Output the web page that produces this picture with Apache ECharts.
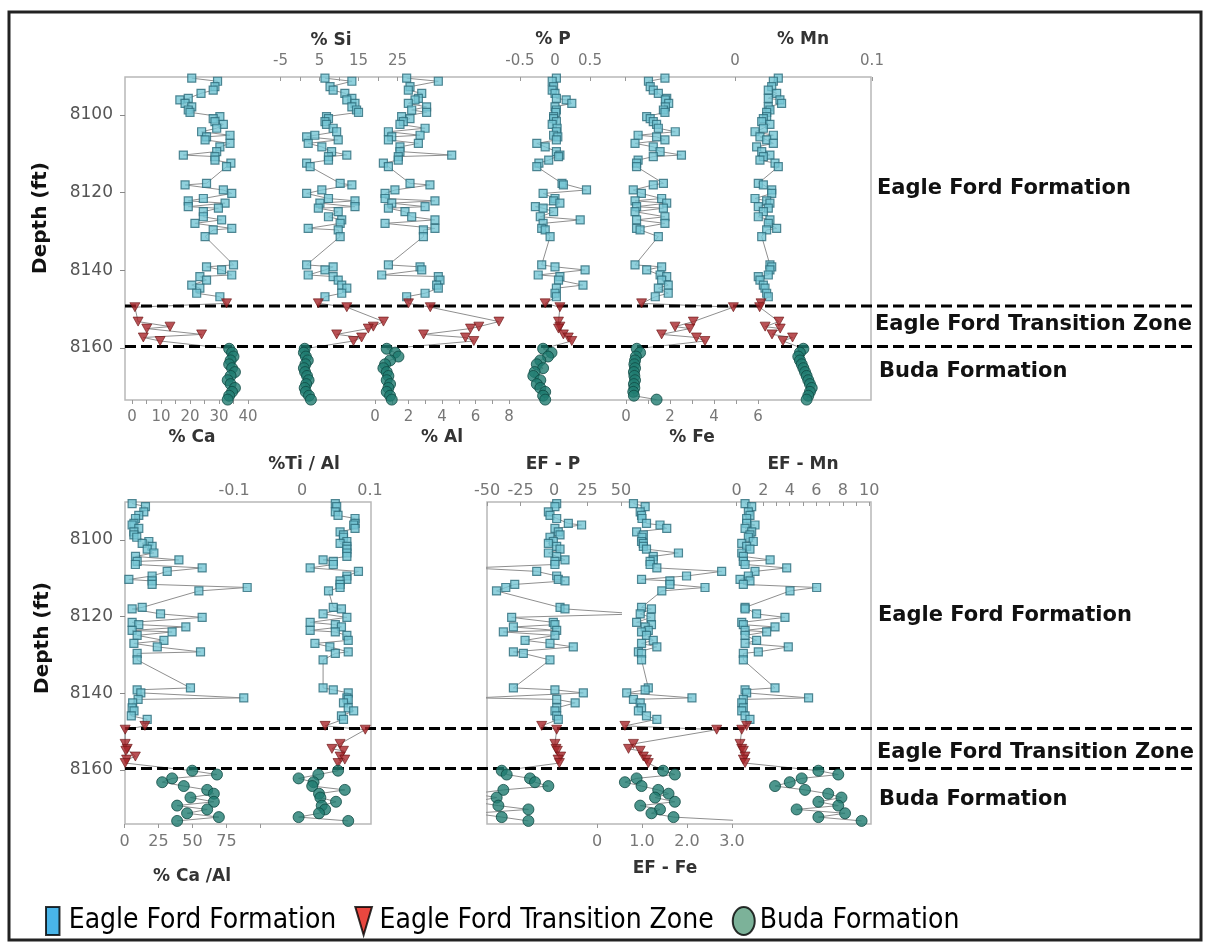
<!DOCTYPE html>
<html>
<head>
<meta charset="utf-8">
<title>Eagle Ford – Buda chemostratigraphy</title>
<script src="https://cdn.jsdelivr.net/npm/echarts@6/dist/echarts.min.js"></script>
<style>
  html, body { margin: 0; padding: 0; background: #fff; }
  #chart { width: 1209px; height: 948px; }
</style>
</head>
<body>
<div id="chart"></div>
<script>
// ---------------- sample depths (ft) ----------------
const efDepth = [8090.5, 8091.3, 8092.7, 8093.6, 8094.4, 8095.7, 8096.1, 8097.0, 8097.9, 8098.7,
  8099.3, 8100.4, 8100.9, 8101.7, 8102.4, 8103.4, 8104.3, 8105.2, 8105.6, 8106.4,
  8107.3, 8108.2, 8109.4, 8110.3, 8110.7, 8111.6, 8112.4, 8113.3, 8117.6, 8118.0,
  8119.3, 8120.2, 8121.5, 8122.1, 8122.7, 8123.6, 8124.0, 8124.9, 8126.2, 8127.0,
  8127.9, 8129.2, 8129.6, 8131.3, 8138.6, 8139.1, 8139.9, 8141.2, 8141.6, 8142.5,
  8143.8, 8144.6, 8145.9, 8146.8];
const tzDepth = [8148.5, 8149.5, 8153.2, 8154.5, 8155.0, 8156.5, 8157.3, 8158.2];
const budaDepth = [8160.2, 8161.2, 8162.2, 8163.2, 8164.2, 8165.2, 8166.2, 8167.2, 8168.3, 8169.3,
  8170.3, 8171.3, 8172.3, 8173.3];
const zoneBoundaries = [8149.2, 8159.6];

// ---------------- element concentrations ----------------
const caEF = [20.6, 29.5, 28.6, 28.0, 23.8, 19.4, 16.5, 18.3, 20.6, 19.4, 20.0, 30.3, 28.0, 28.6, 31.5, 29.2, 24.0, 33.8, 25.7, 25.2,
  33.8, 30.3, 29.2, 17.7, 28.6, 28.6, 34.1, 32.6, 25.7, 18.3, 31.5, 34.4, 24.6, 19.4, 32.1, 19.4, 29.8, 24.6, 24.6, 30.9,
  21.7, 34.4, 28.0, 25.2, 35.0, 25.7, 30.9, 34.4, 23.4, 25.7, 20.6, 23.4, 22.3, 30.3];
const caTZ = [32.6, 1.0, 2.1, 13.1, 5.1, 24.0, 3.9, 9.7];
const caBuda = [33.5, 34.5, 35.0, 34.0, 33.5, 34.5, 35.5, 34.0, 33.0, 34.0, 35.5, 34.5, 33.5, 33.0];

const siEF = [6.4, 13.3, 7.7, 8.5, 11.5, 13.3, 12.0, 14.1, 13.3, 14.5, 15.0, 6.8, 7.3, 6.4, 6.8, 8.5, 9.4, 3.8, 1.7, 9.8,
  2.1, 5.6, 8.1, 12.0, 7.3, 7.3, 1.7, 2.6, 10.3, 13.3, 5.6, 1.7, 7.3, 14.1, 5.1, 14.1, 4.7, 9.8, 7.3, 10.7,
  10.3, 2.1, 9.8, 10.3, 1.7, 8.5, 6.4, 2.1, 8.5, 9.8, 10.7, 12.0, 10.7, 6.4];
const siTZ = [4.7, 12.0, 21.4, 18.8, 17.5, 9.4, 15.8, 13.7];
const siBuda = [1.2, 1.0, 1.5, 2.0, 1.4, 1.0, 1.3, 1.8, 2.2, 1.6, 1.2, 1.5, 2.3, 2.8];

const alEF = [1.89, 3.78, 2.09, 1.99, 2.79, 2.59, 2.39, 1.99, 3.08, 2.19, 3.08, 1.59, 2.09, 1.69, 1.49, 2.99, 0.80, 2.69, 1.00, 0.80,
  2.59, 1.49, 1.49, 4.58, 1.39, 1.39, 0.50, 0.80, 2.09, 3.28, 1.19, 0.60, 0.60, 3.58, 1.00, 2.99, 0.80, 1.79, 2.19, 3.58,
  0.60, 3.58, 2.89, 2.89, 0.80, 2.69, 2.79, 0.40, 3.78, 3.88, 3.68, 3.78, 2.99, 1.89];
const alTZ = [2.0, 3.3, 7.4, 6.2, 5.7, 2.9, 5.4, 5.9];
const alBuda = [0.7, 1.2, 1.4, 0.9, 0.6, 0.5, 0.7, 0.8, 0.7, 0.9, 0.8, 0.7, 0.9, 1.0];

const pEF = [0.02, -0.04, -0.02, -0.04, 0.00, 0.02, 0.16, 0.24, 0.00, 0.02, 0.01, -0.02, -0.02, 0.02, -0.04, 0.03, 0.02, -0.02, 0.04, 0.02,
  -0.26, -0.14, 0.02, 0.07, 0.05, -0.09, -0.23, -0.26, 0.10, 0.12, 0.45, -0.17, 0.00, -0.02, 0.07, -0.28, -0.17, -0.02, -0.21, 0.36,
  -0.17, -0.19, -0.14, -0.07, -0.19, 0.00, 0.43, -0.24, 0.07, 0.05, 0.40, 0.02, 0.00, 0.02];
const pTZ = [-0.14, 0.07, 0.05, 0.07, 0.05, 0.12, 0.19, 0.24];
const pBuda = [-0.17, -0.05, -0.10, -0.21, -0.26, -0.17, -0.29, -0.31, -0.21, -0.26, -0.21, -0.14, -0.17, -0.14];

const feEF = [1.77, 1.02, 1.10, 1.24, 1.47, 1.85, 1.79, 1.94, 1.79, 1.70, 1.77, 0.94, 1.10, 1.24, 1.39, 1.47, 2.24, 0.55, 1.39, 1.77,
  0.41, 1.24, 1.55, 2.52, 1.24, 0.55, 0.48, 0.48, 1.70, 1.24, 0.33, 0.70, 1.62, 0.41, 1.85, 0.48, 1.70, 0.41, 1.77, 0.48,
  1.77, 0.48, 0.64, 1.47, 0.41, 1.62, 0.94, 1.55, 1.85, 1.62, 1.92, 1.47, 1.92, 1.33];
const feTZ = [0.71, 4.88, 3.06, 2.23, 2.90, 1.62, 3.20, 3.59];
const feBuda = [0.49, 0.64, 0.45, 0.41, 0.38, 0.41, 0.36, 0.38, 0.41, 0.36, 0.38, 0.33, 0.36, 1.39];

const mnEF = [0.0316, 0.0280, 0.0268, 0.0243, 0.0304, 0.0243, 0.0328, 0.0340, 0.0243, 0.0255, 0.0231, 0.0231, 0.0207, 0.0195, 0.0255,
  0.0207, 0.0146, 0.0280, 0.0182, 0.0231, 0.0280, 0.0158, 0.0195, 0.0255, 0.0207, 0.0182, 0.0292, 0.0316, 0.0170, 0.0207,
  0.0268, 0.0268, 0.0146, 0.0231, 0.0255, 0.0170, 0.0243, 0.0207, 0.0170, 0.0255, 0.0243, 0.0304, 0.0231, 0.0195, 0.0255,
  0.0268, 0.0255, 0.0243, 0.0170, 0.0182, 0.0207, 0.0219, 0.0231, 0.0243];
const mnTZ = [0.019, 0.018, 0.032, 0.022, 0.033, 0.027, 0.042, 0.035];
const mnBuda = [0.0499, 0.0474, 0.0462, 0.0474, 0.0487, 0.0499, 0.0511, 0.0523, 0.0535, 0.0547, 0.0560, 0.0547, 0.0535, 0.0523];

// ---------------- ratios and enrichment factors ----------------
const caAlEF = [5.6, 15.4, 14.2, 10.5, 8.1, 6.9, 5.6, 10.5, 6.9, 6.9, 9.0, 17.9, 13.0, 20.3, 16.7, 21.6, 8.1, 40.0, 9.3, 8.0,
  57.1, 31.4, 20.3, 3.2, 20.3, 20.3, 90.2, 54.7, 13.0, 5.6, 26.5, 57.1, 5.6, 10.5, 45.1, 5.6, 35.0, 9.3, 29.0, 6.9,
  24.1, 55.9, 9.3, 9.3, 48.5, 9.3, 12.0, 87.7, 10.0, 6.0, 5.6, 7.0, 5.0, 16.7];
const caAlTZ = [15.0, 0.5, 0.5, 2.0, 1.0, 8.0, 1.5, 0.5];
const caAlBuda = [49.8, 68.0, 35.0, 27.7, 43.6, 60.8, 65.7, 48.5, 65.7, 38.7, 60.8, 46.0, 69.4, 38.7];

const tiAlEF = [0.049, 0.051, 0.049, 0.053, 0.078, 0.078, 0.076, 0.078, 0.056, 0.061, 0.061, 0.066, 0.056, 0.066, 0.066, 0.066, 0.066, 0.031, 0.046, 0.046,
  0.012, 0.083, 0.066, 0.066, 0.056, 0.056, 0.056, 0.039, 0.046, 0.058, 0.031, 0.066, 0.012, 0.049, 0.058, 0.012, 0.049, 0.066, 0.068, 0.019,
  0.041, 0.068, 0.049, 0.031, 0.031, 0.046, 0.068, 0.066, 0.068, 0.061, 0.068, 0.076, 0.058, 0.061];
const tiAlTZ = [0.034, 0.093, 0.056, 0.044, 0.061, 0.056, 0.063, 0.053];
const tiAlBuda = [0.053, 0.024, -0.005, 0.017, 0.015, 0.063, 0.025, 0.027, 0.050, 0.029, 0.034, 0.025, -0.005, 0.068];

const efPEF = [2.0, 0.7, -4.2, -3.0, 2.0, 10.7, 20.6, 0.7, 3.2, 4.5, -3.0, -0.5, -4.2, 2.0, 4.5, -4.2, 2.0, 8.2, 0.7, 0.7,
  -62, -12.9, 2.0, 3.2, 8.2, -29.3, -36.0, -42.9, 4.5, 8.2, 64, -31.6, -0.5, 0.7, -30.3, 2.0, -37.8, 0.7, -21.6, -3.0,
  14.4, -30.3, -22.9, -3.0, -30.3, 0.7, 21.9, -58, 2.0, 15.8, 2.0, 0.7, 2.0, 3.2];
const efPTZ = [-9.2, 2.0, 0.7, 1.5, 2.5, 5.0, 3.0, 4.0];
const efPBuda = [-39, -35.3, -17.9, -14.2, -4.2, -37.8, -60, -42.8, -60, -41.5, -19.1, -60, -39, -19.1];

const efFeEF = [0.81, 1.07, 0.96, 0.99, 1.00, 1.10, 1.40, 1.55, 0.88, 1.03, 1.00, 0.99, 1.03, 1.03, 1.10, 1.81, 1.25, 1.25, 1.18, 1.18,
  1.33, 2.77, 1.99, 0.99, 1.62, 1.62, 2.40, 1.44, 0.99, 1.21, 0.96, 1.20, 0.88, 1.21, 1.07, 1.14, 0.99, 1.10, 1.25, 0.99,
  1.33, 0.92, 0.99, 0.99, 1.14, 1.07, 0.66, 2.11, 0.81, 0.96, 0.99, 0.92, 1.10, 1.33];
const efFeTZ = [0.62, 2.66, 0.81, 0.70, 0.96, 1.03, 1.10, 1.14];
const efFeBuda = [1.47, 1.73, 0.88, 0.62, 0.99, 1.36, 1.59, 1.29, 1.73, 0.96, 1.40, 1.21, 1.70, 3.3];

const efMnEF = [0.63, 1.13, 0.88, 1.00, 0.75, 0.75, 1.38, 0.63, 1.13, 1.00, 0.88, 1.25, 0.38, 0.75, 1.00, 0.38, 0.50, 2.52, 0.50, 0.63,
  3.77, 1.38, 0.88, 0.25, 1.00, 0.50, 6.03, 4.02, 0.63, 0.63, 1.50, 3.64, 0.38, 0.50, 2.89, 0.63, 2.26, 0.63, 1.50, 0.63,
  3.89, 1.63, 0.50, 0.50, 2.89, 0.63, 0.75, 5.42, 0.50, 0.38, 0.50, 0.38, 0.63, 1.00];
const efMnTZ = [0.75, 0.38, 0.25, 0.38, 0.50, 0.63, 0.50, 0.63];
const efMnBuda = [6.16, 7.66, 4.90, 4.00, 2.89, 5.15, 6.90, 7.90, 6.16, 7.66, 4.52, 8.17, 6.16, 9.42];

// ---------------- tick marks and tick labels ----------------
const depthTicks = [8100, 8120, 8140, 8160];
const caTickMarks = [0, 5, 10, 15, 20, 25, 30, 35, 40];
const caTicks = [0, 10, 20, 30, 40];
const siTickMarks = [-5, 0, 5, 10, 15, 20, 25];
const siTicks = [-5, 5, 15, 25];
const alTickMarks = [0, 1, 2, 3, 4, 5, 6, 7, 8];
const alTicks = [0, 2, 4, 6, 8];
const pTickMarks = [-0.5, 0, 0.5, 1.0];
const pTicks = [-0.5, 0, 0.5];
const feTickMarks = [0, 1, 2, 3, 4, 5, 6];
const feTicks = [0, 2, 4, 6];
const mnTicks = [0, 0.1];
const caAlTickMarks = [0, 25, 50, 75, 100];
const caAlTicks = [0, 25, 50, 75];
const tiAlTicks = [-0.1, 0, 0.1];
const efPTicks = [-50, -25, 0, 25, 50];
const efFeTicks = [0, 1, 2, 3];
const efMnTickMarks = [0, 1, 2, 3, 4, 5, 6, 7, 8, 9, 10];
const efMnTicks = [0, 2, 4, 6, 8, 10];

const ZONES = ['Eagle Ford Formation', 'Eagle Ford Transition Zone', 'Buda Formation'];

// ---------------- layout ----------------
const FONT = '"DejaVu Sans", "Liberation Sans", sans-serif';
const panels = {
  upper: { top: 77, height: 323, yMin: 8090.2, yMax: 8173.4 },
  lower: { top: 502, height: 322, yMin: 8090.1, yMax: 8174.1 }
};
const frames = [
  { panel: 'upper', left: 125, width: 746, depthLabels: true },
  { panel: 'lower', left: 125, width: 246, depthLabels: true },
  { panel: 'lower', left: 487, width: 384, depthLabels: false }
];
const oneDec = v => (v === 0 ? '0' : v.toFixed(1));
const plain = v => String(+v.toFixed(4));
// px0: pixel column of value 0, ppu: pixels per unit
const tracks = [
  { panel: 'upper', ef: caEF, tz: caTZ, buda: caBuda, px0: 132, ppu: 2.9, min: -2.4, max: 45, side: 'bottom', marks: caTickMarks, labels: caTicks, fs: 15 },
  { panel: 'upper', ef: siEF, tz: siTZ, buda: siBuda, px0: 300, ppu: 3.9, min: -5, max: 30, side: 'top', marks: siTickMarks, labels: siTicks, fs: 15 },
  { panel: 'upper', ef: alEF, tz: alTZ, buda: alBuda, px0: 375, ppu: 16.75, min: -0.5, max: 9, side: 'bottom', marks: alTickMarks, labels: alTicks, fs: 15 },
  { panel: 'upper', ef: pEF, tz: pTZ, buda: pBuda, px0: 555, ppu: 70, min: -0.6, max: 1.0, side: 'top', marks: pTickMarks, labels: pTicks, fs: 15 },
  { panel: 'upper', ef: feEF, tz: feTZ, buda: feBuda, px0: 626, ppu: 22, min: -0.5, max: 8, side: 'bottom', marks: feTickMarks, labels: feTicks, fs: 15 },
  { panel: 'upper', ef: mnEF, tz: mnTZ, buda: mnBuda, px0: 735, ppu: 1370, min: 0, max: 0.1, side: 'top', marks: mnTicks, labels: mnTicks, fs: 15 },
  { panel: 'lower', ef: caAlEF, tz: caAlTZ, buda: caAlBuda, px0: 124.5, ppu: 1.36, min: 0, max: 180, side: 'bottom', marks: caAlTickMarks, labels: caAlTicks, fs: 16 },
  { panel: 'lower', ef: tiAlEF, tz: tiAlTZ, buda: tiAlBuda, px0: 302, ppu: 680, min: -0.1, max: 0.1, side: 'top', marks: [], labels: tiAlTicks, fs: 16 },
  { panel: 'lower', ef: efPEF, tz: efPTZ, buda: efPBuda, px0: 554, ppu: 1.34, min: -50, max: 50, side: 'top', marks: efPTicks, labels: efPTicks, fs: 16 },
  { panel: 'lower', ef: efFeEF, tz: efFeTZ, buda: efFeBuda, px0: 597, ppu: 45, min: 0, max: 3, side: 'bottom', marks: efFeTicks, labels: efFeTicks, fs: 16, fmt: oneDec },
  { panel: 'lower', ef: efMnEF, tz: efMnTZ, buda: efMnBuda, px0: 736.7, ppu: 13.26, min: 0, max: 10, side: 'top', marks: efMnTickMarks, labels: efMnTicks, fs: 16 }
];

const grids = [], xAxes = [], yAxes = [], series = [];
function addGrid(grid, xAxis, yAxis) {
  const i = grids.length;
  grids.push(grid);
  xAxes.push(Object.assign({ gridIndex: i }, xAxis));
  yAxes.push(Object.assign({ gridIndex: i }, yAxis));
  return i;
}
const hiddenX = { type: 'value', min: 0, max: 1, show: false };
const hiddenDepth = p => ({ type: 'value', inverse: true, min: p.yMin, max: p.yMax, show: false });

// panel frames with the depth axis
frames.forEach(f => {
  const p = panels[f.panel];
  addGrid(
    { left: f.left, top: p.top, width: f.width, height: p.height, show: true, borderColor: '#b8b8b8', borderWidth: 1.5 },
    hiddenX,
    {
      type: 'value', inverse: true, min: p.yMin, max: p.yMax,
      splitLine: { show: false }, axisLine: { show: false },
      axisTick: { show: f.depthLabels, customValues: depthTicks, length: 5, lineStyle: { color: '#888' } },
      axisLabel: { show: f.depthLabels, customValues: depthTicks, fontSize: 17, color: '#555', margin: 12, fontFamily: FONT, formatter: v => String(v) }
    }
  );
});

// dashed zone boundaries, running out to the zone labels
Object.keys(panels).forEach(key => {
  const p = panels[key];
  const gi = addGrid({ left: 125, top: p.top, width: 1070, height: p.height }, hiddenX, hiddenDepth(p));
  zoneBoundaries.forEach(b => {
    series.push({
      type: 'line', xAxisIndex: gi, yAxisIndex: gi, data: [[0, b], [1, b]], symbol: 'none', silent: true, z: 4,
      lineStyle: { color: '#000', width: 3, type: [11, 5] }, clip: false
    });
  });
});

// one grid per measurement track
tracks.forEach(t => {
  const p = panels[t.panel];
  const gi = addGrid(
    { left: t.px0 + t.min * t.ppu, top: p.top, width: (t.max - t.min) * t.ppu, height: p.height },
    {
      type: 'value', min: t.min, max: t.max, position: t.side,
      splitLine: { show: false }, axisLine: { show: false },
      axisTick: { show: t.marks.length > 0, customValues: t.marks, inside: t.side === 'top', length: 4, lineStyle: { color: '#999' } },
      axisLabel: {
        customValues: t.labels, fontSize: t.fs, color: '#777', fontFamily: FONT,
        margin: t.panel === 'upper' ? (t.side === 'top' ? 8 : 10) : (t.side === 'top' ? 3 : 10),
        formatter: t.fmt || plain
      }
    },
    hiddenDepth(p)
  );
  const ef = t.ef.map((v, k) => [v, efDepth[k]]);
  const tz = t.tz.map((v, k) => [v, tzDepth[k]]);
  const bu = t.buda.map((v, k) => [v, budaDepth[k]]);
  series.push({
    type: 'line', xAxisIndex: gi, yAxisIndex: gi, data: ef.concat(tz, bu), symbol: 'none', silent: true, clip: true, z: 2,
    lineStyle: { color: '#8f8f8f', width: 1 }
  });
  series.push({
    type: 'scatter', name: ZONES[0], xAxisIndex: gi, yAxisIndex: gi, data: ef, clip: true, z: 5,
    symbol: 'rect', symbolSize: 8, itemStyle: { color: '#74c5d4', borderColor: '#2c6c7a', borderWidth: 1.2 }
  });
  series.push({
    type: 'scatter', name: ZONES[1], xAxisIndex: gi, yAxisIndex: gi, data: tz, clip: true, z: 5,
    symbol: 'triangle', symbolRotate: 180, symbolSize: [10, 9], itemStyle: { color: '#a8262b', borderColor: '#6b1414', borderWidth: 0.8 }
  });
  series.push({
    type: 'scatter', name: ZONES[2], xAxisIndex: gi, yAxisIndex: gi, data: bu, clip: true, z: 5,
    symbol: 'circle', symbolSize: 11, itemStyle: { color: '#1f7c70', borderColor: '#0f4a43', borderWidth: 1 }
  });
});

// titles and zone labels
const titleFont = 'bold 17px ' + FONT;
function label(text, x, y, font, fill, rotation) {
  return {
    type: 'text', x: x, y: y, rotation: rotation || 0, z: 10, silent: true,
    style: { text: text, x: 0, y: 0, font: font, fill: fill, align: 'center', verticalAlign: 'middle' }
  };
}
function zoneLabel(text, x, y) {
  return {
    type: 'text', x: x, y: y, z: 10, silent: true,
    style: { text: text, x: 0, y: 0, font: 'bold 21px ' + FONT, fill: '#111', align: 'left', verticalAlign: 'middle' }
  };
}
const graphics = [
  { type: 'rect', shape: { x: 9, y: 12, width: 1192, height: 928 }, style: { fill: 'none', stroke: '#222', lineWidth: 3 }, silent: true, z: 0 },
  label('% Si', 331, 41, titleFont, '#333'),
  label('% P', 553, 40, titleFont, '#333'),
  label('% Mn', 803, 40, titleFont, '#333'),
  label('% Ca', 192, 438, titleFont, '#333'),
  label('% Al', 442, 438, titleFont, '#333'),
  label('% Fe', 692, 438, titleFont, '#333'),
  label('%Ti / Al', 304, 465, titleFont, '#333'),
  label('EF - P', 553, 465, titleFont, '#333'),
  label('EF - Mn', 803, 465, titleFont, '#333'),
  label('% Ca /Al', 192, 877, titleFont, '#333'),
  label('EF - Fe', 665, 869, titleFont, '#333'),
  label('Depth (ft)', 41, 218, 'bold 20px ' + FONT, '#111', Math.PI / 2),
  label('Depth (ft)', 43, 638, 'bold 20px ' + FONT, '#111', Math.PI / 2),
  zoneLabel(ZONES[0], 877, 189),
  zoneLabel(ZONES[1], 875, 325),
  zoneLabel(ZONES[2], 879, 372),
  zoneLabel(ZONES[0], 878, 616),
  zoneLabel(ZONES[1], 877, 753),
  zoneLabel(ZONES[2], 879, 800)
];

const chart = echarts.init(document.getElementById('chart'), null, { renderer: 'canvas' });
chart.setOption({
  animation: false,
  backgroundColor: '#fff',
  textStyle: { fontFamily: FONT },
  grid: grids,
  xAxis: xAxes,
  yAxis: yAxes,
  series: series,
  graphic: graphics,
  legend: {
    left: 40, top: 901, itemWidth: 22, itemHeight: 28, itemGap: 18, selectedMode: false,
    textStyle: { fontSize: 28, color: '#000', fontFamily: '"DejaVu Sans Condensed", "DejaVu Sans", sans-serif' },
    data: [
      { name: ZONES[0], icon: 'path://M0,0 L13,0 L13,27 L0,27 Z', itemStyle: { color: '#1ba3e4', borderColor: '#000', borderWidth: 2 } },
      { name: ZONES[1], icon: 'path://M0,0 L16,0 L8,27 Z', itemStyle: { color: '#e4190f', borderColor: '#000', borderWidth: 2 } },
      { name: ZONES[2], icon: 'path://M11,0 A11,14 0 1,1 11,28 A11,14 0 1,1 11,0 Z', itemStyle: { color: '#5b9f80', borderColor: '#000', borderWidth: 2 } }
    ]
  }
});
</script>
</body>
</html>
